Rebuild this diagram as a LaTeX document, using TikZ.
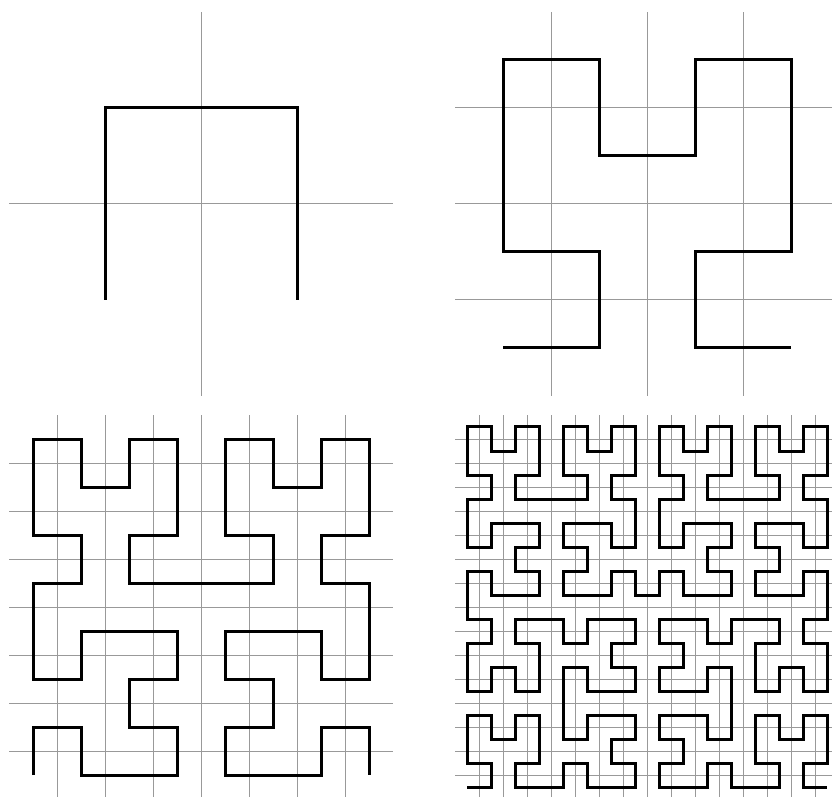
\documentclass[tikz,border=0pt]{standalone}
\newcount\hx \newcount\hy \newcount\hdx \newcount\hdy \newcount\htmp
\def\hL{\htmp=\hdx \hdx=-\hdy \hdy=\htmp}
\def\hR{\htmp=\hdx \hdx=\hdy \hdy=-\htmp}
\def\hF{\advance\hx by\hdx \advance\hy by\hdy \xdef\hpath{\hpath -- (\the\hx,\the\hy)}}
\def\hA#1{\ifnum#1>0 \hL\hB{\numexpr#1-1\relax}\hF\hR\hA{\numexpr#1-1\relax}\hF\hA{\numexpr#1-1\relax}\hR\hF\hB{\numexpr#1-1\relax}\hL\fi}
\def\hB#1{\ifnum#1>0 \hR\hA{\numexpr#1-1\relax}\hF\hL\hB{\numexpr#1-1\relax}\hF\hB{\numexpr#1-1\relax}\hL\hF\hA{\numexpr#1-1\relax}\hR\fi}
\def\hilbertpath#1{\hx=0 \hy=0 \hdx=1 \hdy=0 \gdef\hpath{}\hA{#1}}
\begin{document}
\begin{tikzpicture}[x=1pt,y=1pt,
  gridline/.style={black!40,line width=1pt},
  curve/.style={black,line width=3pt}]
\useasboundingbox (0,0) rectangle (832,796);
\clip (0,0) rectangle (832,796);
% grids
\foreach \px/\py/\n in {9/400/2, 455/400/4, 9/-3/8, 455/-3/16} {
  \pgfmathsetmacro\s{384/\n}
  \pgfmathtruncatemacro\m{\n-1}
  \foreach \k in {1,...,\m} {
    \draw[gridline] (\px+\k*\s,\py) -- (\px+\k*\s,\py+384);
    \draw[gridline] (\px,\py+\k*\s) -- (\px+384,\py+\k*\s);
  }
}
% Hilbert curves
\hilbertpath{1}
\begin{scope}[shift={(105,496)},x=192pt,y=192pt]
\edef\tmpdraw{\noexpand\draw[curve] (0,0) \hpath;}\tmpdraw
\end{scope}
\hilbertpath{2}
\begin{scope}[shift={(503,448)},x=96pt,y=96pt]
\edef\tmpdraw{\noexpand\draw[curve] (0,0) \hpath;}\tmpdraw
\end{scope}
\hilbertpath{3}
\begin{scope}[shift={(33,21)},x=48pt,y=48pt]
\edef\tmpdraw{\noexpand\draw[curve] (0,0) \hpath;}\tmpdraw
\end{scope}
\hilbertpath{4}
\begin{scope}[shift={(467,9)},x=24pt,y=24pt]
\edef\tmpdraw{\noexpand\draw[curve] (0,0) \hpath;}\tmpdraw
\end{scope}
\end{tikzpicture}
\end{document}
